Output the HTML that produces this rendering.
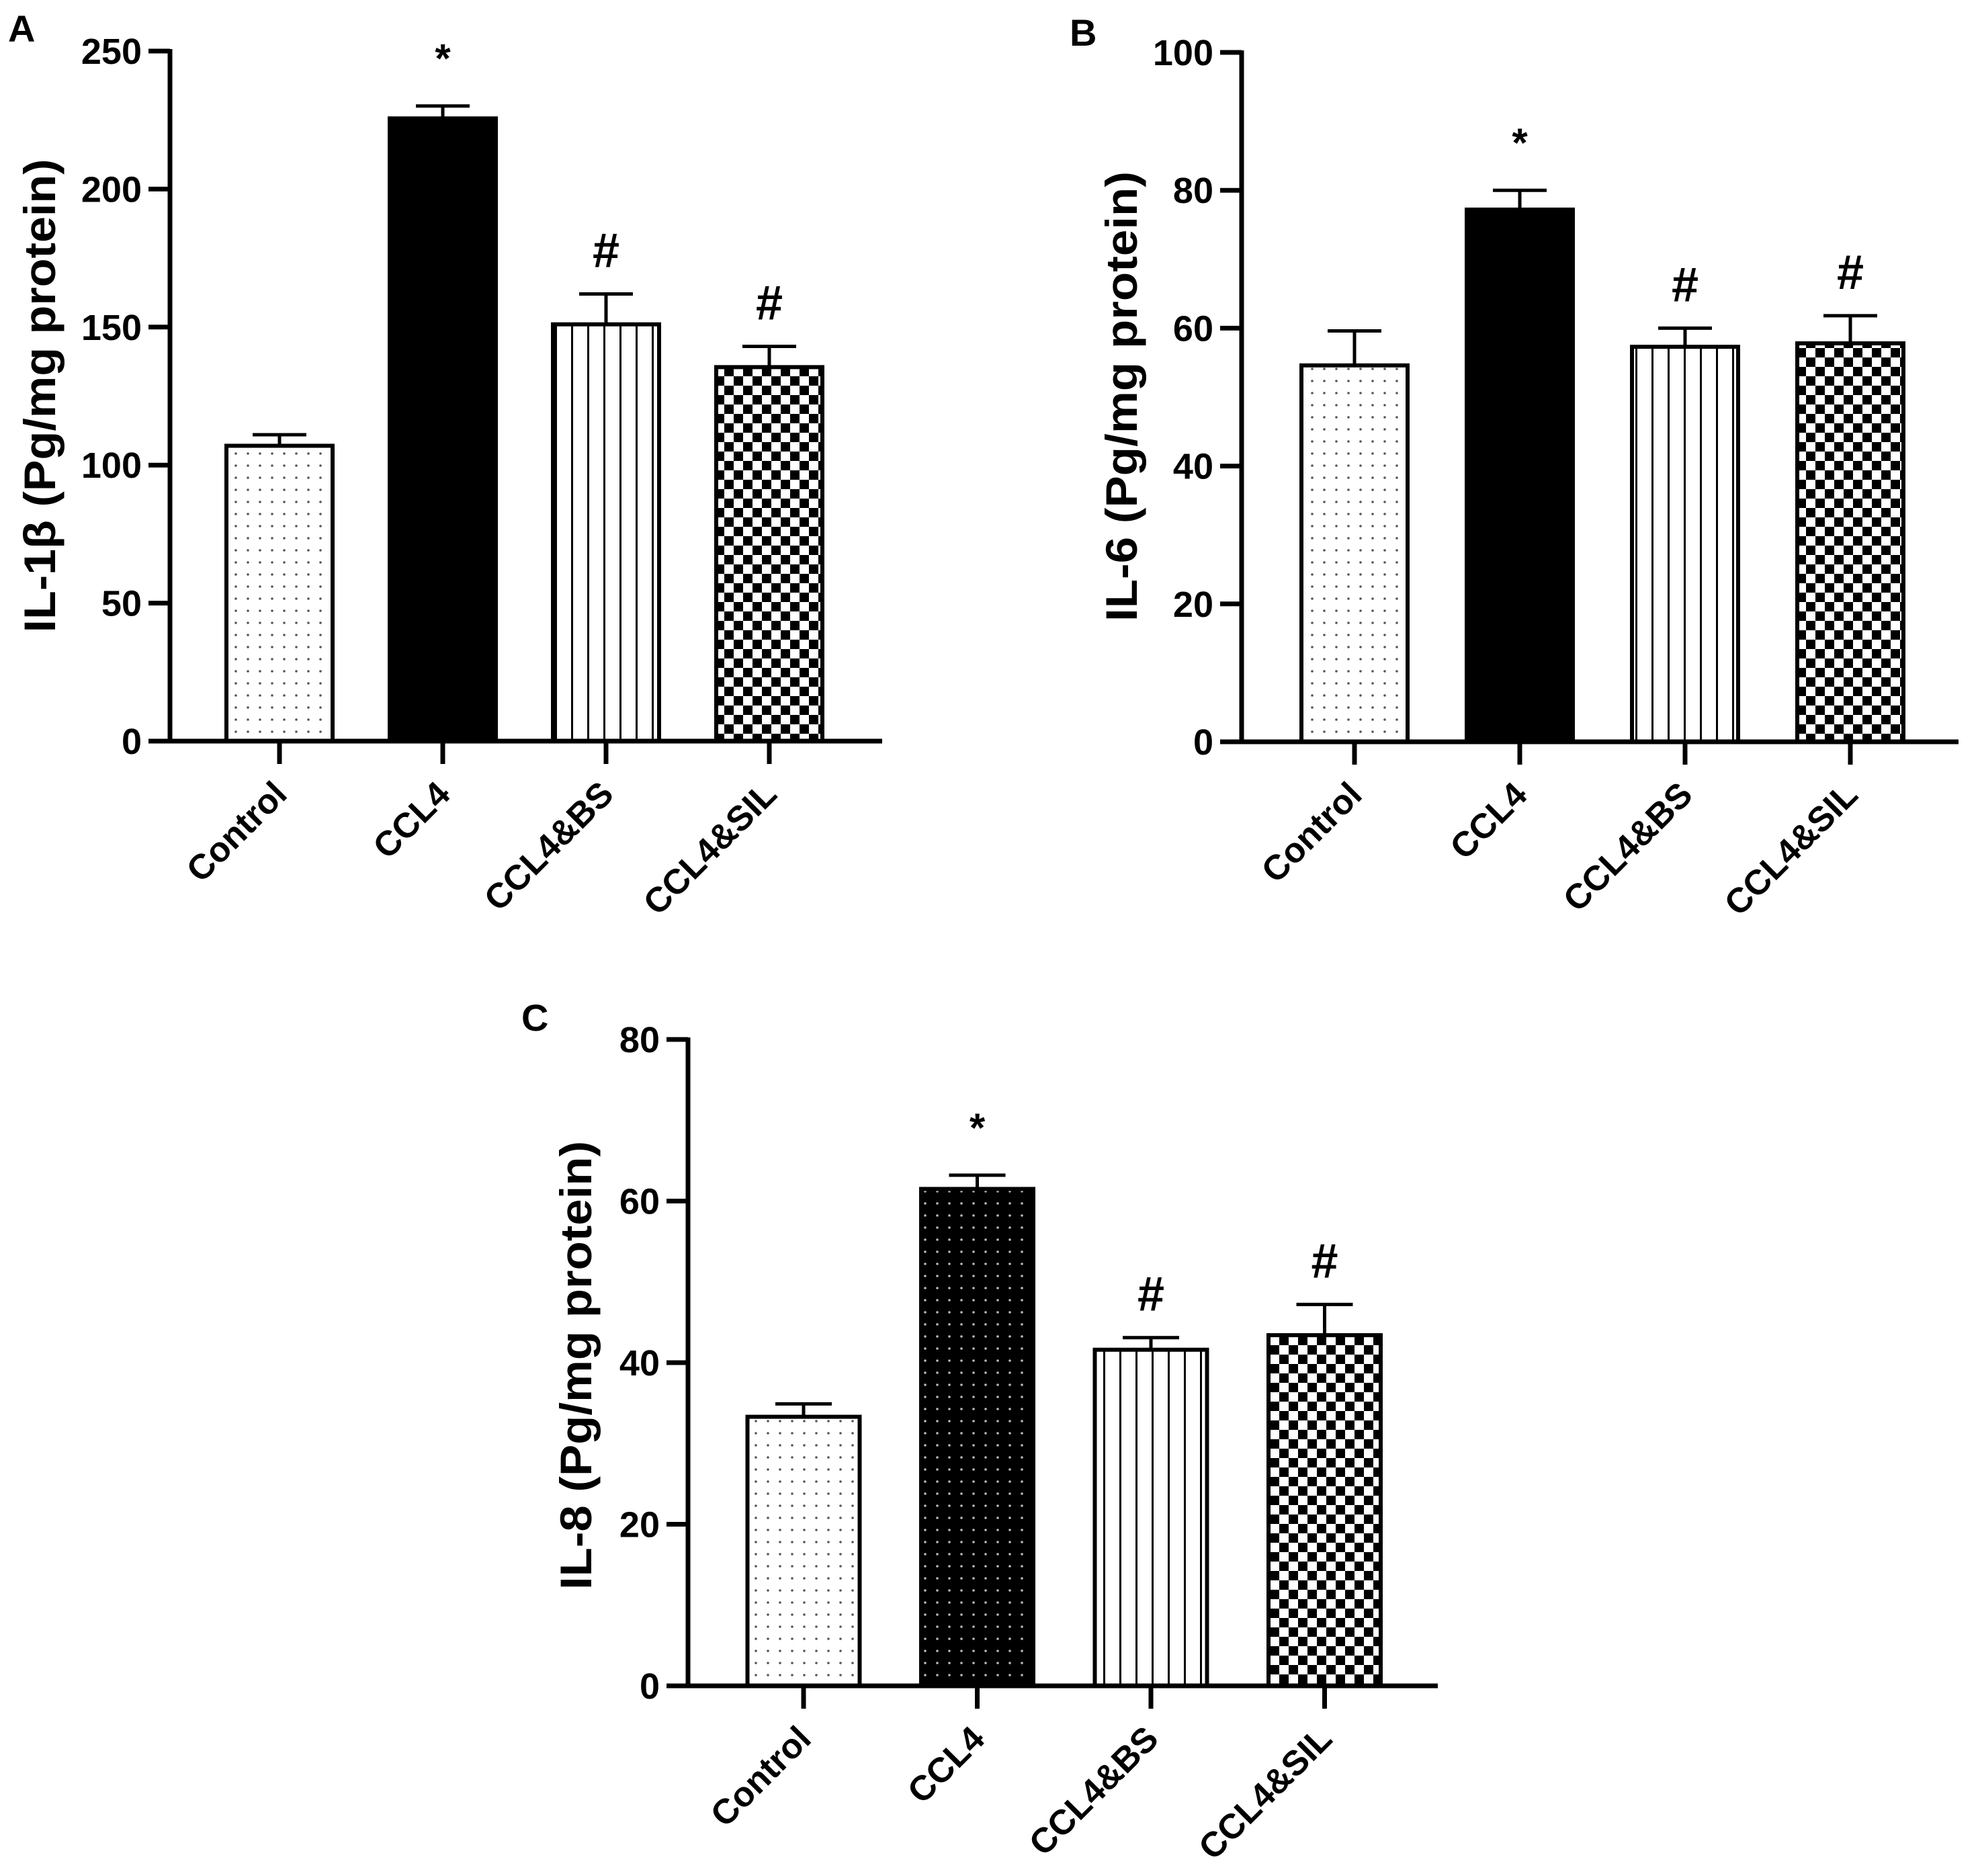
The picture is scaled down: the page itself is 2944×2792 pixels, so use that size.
<!DOCTYPE html>
<html><head><meta charset="utf-8"><style>
html,body{margin:0;padding:0;background:#fff}
svg{display:block}
text{font-family:"Liberation Sans",Arial,sans-serif;font-weight:bold;fill:#000}
</style></head><body>
<svg id="fig" width="2944" height="2792" viewBox="0 0 2944 2792" xmlns="http://www.w3.org/2000/svg">
<defs>
<pattern id="pDots" width="18" height="18" patternUnits="userSpaceOnUse"><rect width="18" height="18" fill="#fff"/><circle cx="9" cy="9" r="1.8" fill="#555"/></pattern>
<pattern id="pDotsDark" width="18" height="18" patternUnits="userSpaceOnUse"><rect width="18" height="18" fill="#000"/><circle cx="9" cy="9" r="1.8" fill="#bbb"/></pattern>
<pattern id="pStripes" width="24" height="24" patternUnits="userSpaceOnUse"><rect width="24" height="24" fill="#fff"/><rect x="10" width="3" height="24" fill="#000"/></pattern>
<pattern id="pCheck" width="28" height="28" patternUnits="userSpaceOnUse"><rect width="28" height="28" fill="#fff"/><rect width="14" height="14" fill="#000"/><rect x="14" y="14" width="14" height="14" fill="#000"/></pattern>
</defs>
</svg>
<script>
const categories = ["Control","CCL4","CCL4&BS","CCL4&SIL"];
const valuesA = [107, 225.6, 151, 135.5];
const errorsA = [4, 4.5, 11, 7.5];
const marksA = ["", "*", "#", "#"];
const ticksA = [0,50,100,150,200,250];
const valuesB = [54.6, 77.2, 57.3, 57.8];
const errorsB = [5, 2.8, 2.7, 4];
const marksB = ["", "*", "#", "#"];
const ticksB = [0,20,40,60,80,100];
const valuesC = [33.3, 61.5, 41.6, 43.4];
const errorsC = [1.6, 1.7, 1.5, 3.8];
const marksC = ["", "*", "#", "#"];
const ticksC = [0,20,40,60,80];

const NS = "http://www.w3.org/2000/svg";
const svg = document.getElementById('fig');
function mk(tag, attrs, parent){
  const e = document.createElementNS(NS, tag);
  for (const k in attrs) e.setAttribute(k, attrs[k]);
  (parent||svg).appendChild(e);
  return e;
}

function panel(cfg){
  const g = mk('g', {});
  
  
  const y = v => cfg.y0 - v / cfg.max * (cfg.y0 - cfg.yTop);
  const x = i => cfg.c0 + i * cfg.step;
  const L = mk('text', {x: cfg.letterX, y: cfg.letterY, 'font-size': 56}, g);
  L.textContent = cfg.letter;
  
  
  cfg.values.forEach((v, i) => {
    const cx = x(i);
    const top = y(v), et = y(v + cfg.errors[i]);
    const eb = mk('line', {x1: cx, x2: cx, y1: top, y2: et, stroke: '#000', 'stroke-width': 5}, g);
    
    
    const cap = mk('line', {x1: cx - cfg.capW/2, x2: cx + cfg.capW/2, y1: et, y2: et, stroke: '#000', 'stroke-width': 5}, g);
    
    
    const r = mk('rect', {x: cx - cfg.bw/2, y: top, width: cfg.bw, height: cfg.y0 - top, fill: cfg.fills[i], stroke: '#000', 'stroke-width': 6}, g);
    
    
    if (cfg.marks[i]) {
      const star = cfg.marks[i] === '*';
      const t = mk('text', {x: cx, y: et - (star ? 50 : 40), 'text-anchor': 'middle', 'font-size': star ? 60 : 72}, g);
      t.textContent = cfg.marks[i];
      
      
    }
    const tk = mk('line', {x1: cx, x2: cx, y1: cfg.y0, y2: cfg.y0 + 34, stroke: '#000', 'stroke-width': 7}, g);
    
    
    const lx = cx + 14, ly = cfg.y0 + 82;
    const lb = mk('text', {x: lx, y: ly, 'text-anchor': 'end', 'font-size': 52, transform: `rotate(-45 ${lx} ${ly})`}, g);
    lb.textContent = categories[i];
    
    
  });
  const ya = mk('line', {x1: cfg.ax, x2: cfg.ax, y1: cfg.yTop - 3, y2: cfg.y0 + 3, stroke: '#000', 'stroke-width': 7}, g);
  
  
  const xa = mk('line', {x1: cfg.ax - 32, x2: cfg.xEnd, y1: cfg.y0, y2: cfg.y0, stroke: '#000', 'stroke-width': 7}, g);
  
  
  cfg.ticks.forEach(t => {
    const ty = y(t);
    const l = mk('line', {x1: cfg.ax - 32, x2: cfg.ax, y1: ty, y2: ty, stroke: '#000', 'stroke-width': 7}, g);
    
    
    const tt = mk('text', {x: cfg.ax - 42, y: ty + 19, 'text-anchor': 'end', 'font-size': 54}, g);
    tt.textContent = t;
    
    
  });
  const tl = mk('text', {x: cfg.titleX, y: cfg.titleY, 'text-anchor': 'middle', 'font-size': 66, textLength: cfg.titleLen, lengthAdjust: 'spacingAndGlyphs', transform: `rotate(-90 ${cfg.titleX} ${cfg.titleY})`}, g);
  tl.textContent = cfg.title;
  
  
}

panel({name:'panel-a', letter:'A', letterX:12, letterY:62, values:valuesA, errors:errorsA, marks:marksA, ticks:ticksA, max:250,
  ax:253, y0:1103, yTop:76, xEnd:1313, c0:416, step:243, bw:158, capW:80,
  fills:['url(#pDots)','#000','url(#pStripes)','url(#pCheck)'],
  title:'IL-1β (Pg/mg protein)', titleLen:705, titleX:82, titleY:589});
panel({name:'panel-b', letter:'B', letterX:1592, letterY:68, values:valuesB, errors:errorsB, marks:marksB, ticks:ticksB, max:100,
  ax:1848, y0:1104, yTop:78, xEnd:2915, c0:2016, step:246, bw:158, capW:80,
  fills:['url(#pDots)','#000','url(#pStripes)','url(#pCheck)'],
  title:'IL-6 (Pg/mg protein)', titleLen:670, titleX:1692, titleY:590});
panel({name:'panel-c', letter:'C', letterX:776, letterY:1534, values:valuesC, errors:errorsC, marks:marksC, ticks:ticksC, max:80,
  ax:1024, y0:2509, yTop:1547, xEnd:2140, c0:1196, step:258.5, bw:167, capW:84,
  fills:['url(#pDots)','url(#pDotsDark)','url(#pStripes)','url(#pCheck)'],
  title:'IL-8 (Pg/mg protein)', titleLen:668, titleX:880, titleY:2032});
</script>
</body></html>
